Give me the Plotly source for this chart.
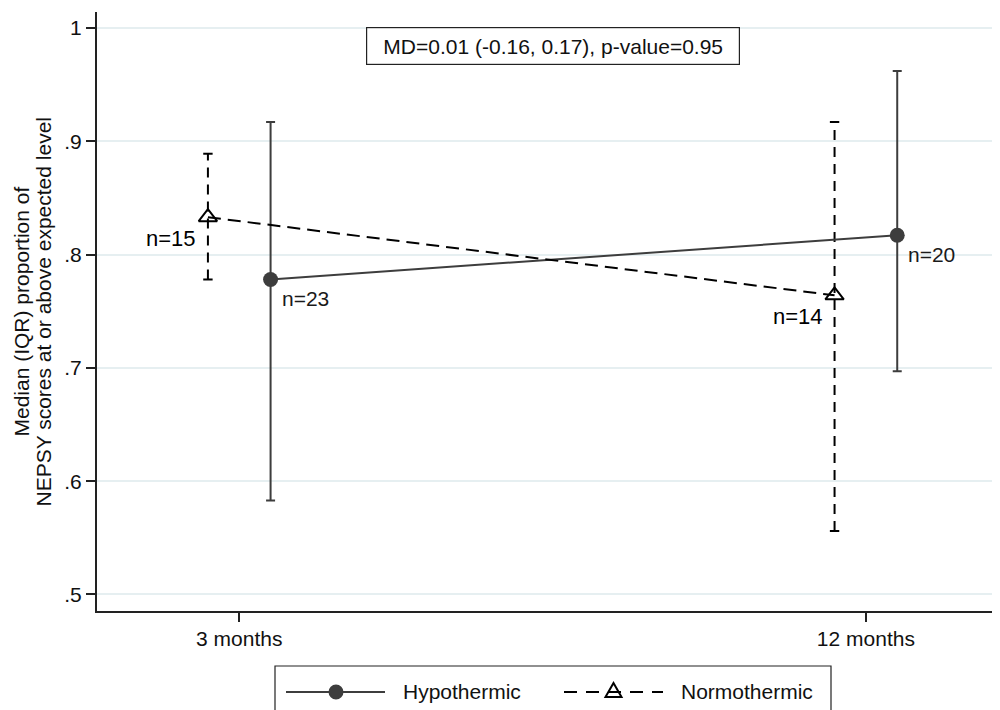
import plotly.graph_objects as go

# ---- data ----
timepoints = ["3 months", "12 months"]
tick_pos = [1, 2]
hypo_median = [0.778, 0.817]
hypo_q1 = [0.583, 0.697]
hypo_q3 = [0.917, 0.962]
hypo_n = [23, 20]
normo_median = [0.833, 0.764]
normo_q1 = [0.778, 0.556]
normo_q3 = [0.889, 0.917]
normo_n = [15, 14]
y_tick_vals = [0.5, 0.6, 0.7, 0.8, 0.9, 1.0]
y_tick_text = [".5", ".6", ".7", ".8", ".9", "1"]
series_names = ["Hypothermic", "Normothermic"]
annot_text = "MD=0.01 (-0.16, 0.17), p-value=0.95"

offset = 0.05
FONT = "Arial, Liberation Sans, sans-serif"
HYPO_COL = "#3d3d3d"
NORMO_COL = "#000000"

# page offset (default body margin) and plot-area geometry in figure pixels
OFF = 8
L, R, T, B = 97 - OFF, OFF, 12 - OFF, 710 - (611 - OFF)
PW, PH = 1000 - L - R, 710 - T - B


def px(xs):
    """screen x pixel -> paper x"""
    return (xs - OFF - L) / PW


def py(ys):
    """screen y pixel -> paper y"""
    return (710 - B - (ys - OFF)) / PH


hx = [p + offset for p in tick_pos]
nx = [p - offset for p in tick_pos]

fig = go.Figure()

# Normothermic dashed whiskers (vertical) and solid caps
cap = 0.0075
wx, wy, cx, cy = [], [], [], []
for x, lo, hi in zip(nx, normo_q1, normo_q3):
    wx += [x, x, None]
    wy += [lo, hi, None]
    cx += [x - cap, x + cap, None, x - cap, x + cap, None]
    cy += [lo, lo, None, hi, hi, None]
fig.add_trace(go.Scatter(x=wx, y=wy, mode="lines", showlegend=False, hoverinfo="skip",
                         line=dict(color=NORMO_COL, width=2, dash="10px,7px")))
fig.add_trace(go.Scatter(x=cx, y=cy, mode="lines", showlegend=False, hoverinfo="skip",
                         line=dict(color=NORMO_COL, width=2)))

# Hypothermic
fig.add_trace(go.Scatter(
    x=hx, y=hypo_median, mode="lines+markers", name=series_names[0], showlegend=False,
    line=dict(color=HYPO_COL, width=2),
    marker=dict(symbol="circle", size=15, color=HYPO_COL),
    error_y=dict(type="data", symmetric=False,
                 array=[q3 - m for q3, m in zip(hypo_q3, hypo_median)],
                 arrayminus=[m - q1 for q1, m in zip(hypo_q1, hypo_median)],
                 color=HYPO_COL, thickness=2, width=4.5),
))

# Normothermic
fig.add_trace(go.Scatter(
    x=nx, y=normo_median, mode="lines+markers", name=series_names[1], showlegend=False,
    line=dict(color=NORMO_COL, width=2, dash="13px,7px"),
    marker=dict(symbol="triangle-up-open", size=16, color=NORMO_COL,
                line=dict(color=NORMO_COL, width=2)),
))

annotations = []
# n labels
for x, y, n in zip(hx, hypo_median, hypo_n):
    annotations.append(dict(x=x, y=y, xref="x", yref="y", text=f"n={n}", showarrow=False,
                            xanchor="left", yanchor="middle", xshift=9, yshift=-19,
                            font=dict(family=FONT, size=21, color="#1a1a1a")))
for x, y, n in zip(nx, normo_median, normo_n):
    annotations.append(dict(x=x, y=y, xref="x", yref="y", text=f"n={n}", showarrow=False,
                            xanchor="right", yanchor="middle", xshift=-10, yshift=-21,
                            font=dict(family=FONT, size=22, color="#000")))

# MD box
annotations.append(dict(x=px(553), y=py(46), xref="paper", yref="paper", text=annot_text,
                        showarrow=False, xanchor="center", yanchor="middle",
                        width=370, height=34, borderpad=1, bordercolor="#222", borderwidth=1.2,
                        bgcolor="white", font=dict(family=FONT, size=21, color="#111")))

# Y axis title as two lines
annotations.append(dict(x=px(21), y=0.5, xref="paper", yref="paper",
                        text="Median (IQR) proportion of", textangle=-90, showarrow=False,
                        xanchor="center", yanchor="middle",
                        font=dict(family=FONT, size=21, color="#111")))
annotations.append(dict(x=px(43), y=0.5, xref="paper", yref="paper",
                        text="NEPSY scores at or above expected level", textangle=-90, showarrow=False,
                        xanchor="center", yanchor="middle",
                        font=dict(family=FONT, size=21, color="#111")))

# ---- legend (drawn) ----
ly = py(692)
shapes = [
    dict(type="rect", xref="paper", yref="paper", x0=px(275), x1=px(831), y0=py(725), y1=py(666),
         line=dict(color="#222", width=1.2), fillcolor="white", layer="above"),
    dict(type="line", xref="paper", yref="paper", x0=px(286), x1=px(385), y0=ly, y1=ly,
         line=dict(color=HYPO_COL, width=2), layer="above"),
    dict(type="circle", xref="paper", yref="paper", xsizemode="pixel", ysizemode="pixel",
         xanchor=px(336), yanchor=ly, x0=-7.5, x1=7.5, y0=-7.5, y1=7.5,
         fillcolor=HYPO_COL, line=dict(width=0), layer="above"),
    dict(type="line", xref="paper", yref="paper", x0=px(564), x1=px(663), y0=ly, y1=ly,
         line=dict(color=NORMO_COL, width=2, dash="13px,9px"), layer="above"),
    dict(type="path", xref="paper", yref="paper", xsizemode="pixel", ysizemode="pixel",
         xanchor=px(613.5), yanchor=ly, path="M -8,-5 L 8,-5 L 0,9 Z",
         fillcolor="rgba(0,0,0,0)", line=dict(color=NORMO_COL, width=2), layer="above"),
]
annotations.append(dict(x=px(401), y=ly, xref="paper", yref="paper", text=series_names[0],
                        showarrow=False, xanchor="left", yanchor="middle",
                        font=dict(family=FONT, size=21, color="#111")))
annotations.append(dict(x=px(679), y=ly, xref="paper", yref="paper", text=series_names[1],
                        showarrow=False, xanchor="left", yanchor="middle",
                        font=dict(family=FONT, size=21, color="#111")))

fig.update_layout(
    width=1000, height=710,
    margin=dict(l=L, r=R, t=T, b=B, autoexpand=False),
    paper_bgcolor="white", plot_bgcolor="white",
    font=dict(family=FONT, size=21, color="#111"),
    showlegend=False,
    annotations=annotations,
    shapes=shapes,
    xaxis=dict(range=[0.773, 2.214], tickvals=tick_pos, ticktext=timepoints,
               showgrid=False, zeroline=False, showline=True, linecolor="#222", linewidth=2,
               ticks="outside", ticklen=9, tickwidth=1.5, tickcolor="#222",
               tickfont=dict(family=FONT, size=21, color="#111"), ticklabelstandoff=-1,
               automargin=False),
    yaxis=dict(range=[0.4854, 1.0141], tickvals=y_tick_vals, ticktext=y_tick_text,
               showgrid=True, gridcolor="#e6eff1", gridwidth=2, zeroline=False,
               showline=True, linecolor="#222", linewidth=2,
               ticks="outside", ticklen=9, tickwidth=1.5, tickcolor="#222",
               tickfont=dict(family=FONT, size=21, color="#111"), automargin=False),
)

fig.write_html("out.html")
